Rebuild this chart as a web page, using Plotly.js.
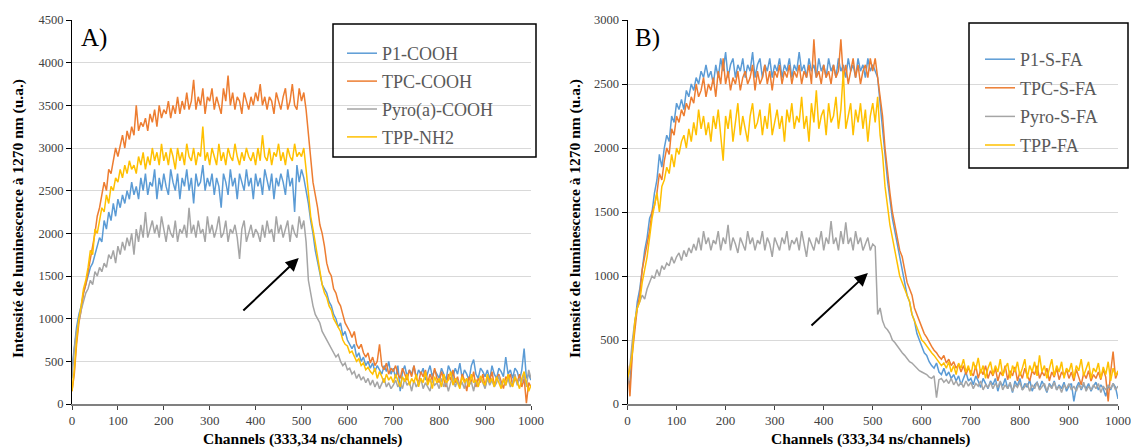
<!DOCTYPE html>
<html>
<head>
<meta charset="utf-8">
<script src="https://cdn.plot.ly/plotly-3.0.1.min.js"></script>
<style>
html,body{margin:0;padding:0;background:#fff;}
#chart{width:1131px;height:448px;}
</style>
</head>
<body>
<div id="chart"></div>
<script>
// Channel index (every 5th channel, 0..1000)
const channels = Array.from({length: 201}, (_, i) => i * 5);

// ---------- Panel A ----------
const namesA = ["P1-COOH", "TPC-COOH", "Pyro(a)-COOH", "TPP-NH2"];
const A_P1 = [
420,700,900,1050,1150,1300,1400,1500,1600,1650,
1750,1850,1950,1900,2150,2050,2250,2150,2350,2200,
2400,2300,2450,2350,2500,2400,2600,2450,2550,2400,
2650,2500,2700,2450,2600,2550,2750,2400,2650,2500,
2700,2550,2450,2750,2600,2500,2700,2400,2650,2550,
2750,2500,2650,2350,2700,2550,2600,2800,2500,2650,
2550,2700,2450,2650,2550,2300,2700,2600,2450,2750,
2550,2650,2400,2700,2600,2500,2750,2550,2650,2400,
2700,2550,2650,2450,2750,2600,2500,2700,2400,2650,
2550,2700,2600,2450,2750,2550,2650,2250,2800,2600,
2750,2650,2500,2350,2150,2000,1800,1650,1550,1400,
1350,1300,1200,1150,1050,1000,900,950,800,850,
750,700,650,700,550,600,500,550,450,500,
420,480,380,450,400,350,450,380,500,350,
420,300,450,150,380,450,320,400,350,450,
300,400,350,420,280,380,450,320,400,350,
300,420,350,280,450,380,320,420,350,480,
300,400,350,280,450,520,350,300,420,380,
320,400,280,450,350,300,420,380,320,550,
350,400,300,420,380,280,400,650,300,350,280];
const A_TPC = [
150,350,700,950,1100,1300,1400,1550,1700,1850,
2000,2200,2300,2450,2600,2500,2750,2700,2850,3000,
2900,3050,3150,3000,3200,3100,3250,3150,3500,3200,
3300,3250,3350,3200,3400,3300,3450,3250,3500,3350,
3450,3400,3550,3350,3500,3400,3600,3400,3550,3450,
3650,3450,3550,3800,3450,3600,3500,3700,3400,3600,
3550,3700,3450,3600,3500,3400,3700,3550,3850,3500,
3650,3450,3600,3550,3400,3650,3550,3450,3600,3500,
3650,3550,3750,3500,3600,3450,3600,3550,3400,3650,
3550,3450,3600,3700,3450,3550,3750,3500,3450,3700,
3550,3650,3450,3150,2900,2600,2450,2300,2100,2000,
1850,1650,1550,1500,1350,1300,1200,1150,1050,950,
900,850,780,850,700,650,700,600,550,600,
480,550,450,500,700,450,400,480,350,420,
380,450,350,300,420,350,280,400,320,450,
300,250,380,320,400,250,350,280,420,300,
250,380,300,200,350,280,400,250,320,200,
350,280,150,320,250,380,200,300,250,350,
200,320,270,380,220,300,350,250,180,320,
280,350,220,300,250,350,200,300,10,250,200];
const A_Pyro = [
300,650,850,1000,1100,1200,1300,1350,1450,1400,
1550,1500,1600,1550,1650,1600,1750,1700,1800,1650,
1850,1750,1900,1800,1950,1850,2000,1750,2050,1900,
2100,1950,2250,1950,2050,2150,2000,2100,1950,2200,
2050,1900,2100,2000,1950,2150,1900,2050,2000,2100,
1950,2300,2000,2100,1950,2150,2000,2050,1900,2200,
2000,2100,1950,2050,2200,1950,2000,2150,1900,2050,
2000,2100,1950,1700,2050,2150,1900,2000,2100,1950,
2050,2000,1900,2100,1950,2150,2000,2050,1900,2200,
2000,2100,1950,2050,2150,1900,2100,2000,1950,2200,
2050,2150,1900,1450,1300,1150,1050,1000,950,850,
800,750,700,650,600,550,580,500,450,480,
400,420,350,380,300,350,280,320,250,300,
220,280,200,260,180,250,300,200,250,180,
220,280,200,250,180,300,220,260,150,280,
200,250,300,180,250,200,150,280,220,250,
180,300,200,260,150,250,320,200,280,220,
250,180,300,220,260,150,280,200,320,250,
180,300,220,280,200,250,330,200,280,220,
300,200,260,350,220,300,250,350,200,400,300];
const A_TPP = [
150,400,750,1000,1150,1350,1450,1600,1800,1750,
2050,2000,2150,2300,2250,2450,2350,2550,2500,2650,
2600,2750,2650,2800,2700,2850,2750,2800,2700,2900,
2800,2950,2750,2900,2800,3000,2850,2950,2800,3050,
2850,2950,2800,3000,2900,2750,3000,2850,2950,2800,
3050,2900,2850,3000,2800,2950,2900,3250,2850,2950,
2800,3000,2900,2800,3050,2850,2950,2800,3000,2900,
2850,3050,2900,2800,2950,2850,3000,2900,2850,2950,
2800,3000,2850,3150,2900,2850,3000,2800,2950,2900,
3050,2850,2950,2800,3000,2900,2850,3050,2900,2950,
2900,3000,2750,2450,2200,2050,1900,1700,1550,1400,
1300,1250,1150,1100,1000,950,900,850,750,700,
680,600,620,550,500,530,450,480,400,430,
380,350,420,300,380,320,250,350,280,320,
250,350,280,200,320,260,350,220,300,250,
350,200,300,250,380,220,300,180,320,250,
300,200,350,250,280,380,220,300,250,180,
320,250,300,200,350,250,280,200,330,260,
220,350,250,300,200,320,250,180,300,220,
350,250,200,320,260,180,300,380,250,150,220];

// ---------- Panel B ----------
const namesB = ["P1-S-FA", "TPC-S-FA", "Pyro-S-FA", "TPP-FA"];
const B_P1 = [
200,150,450,650,800,900,1050,1200,1300,1450,
1500,1650,1750,1950,1850,2000,2100,2050,2250,2200,
2350,2300,2380,2300,2450,2400,2500,2450,2550,2500,
2600,2550,2650,2550,2600,2500,2650,2550,2700,2600,
2750,2550,2650,2700,2550,2650,2600,2700,2550,2650,
2600,2750,2550,2650,2700,2550,2650,2600,2700,2550,
2650,2600,2700,2550,2650,2600,2700,2550,2650,2600,
2750,2600,2650,2550,2700,2600,2650,2550,2700,2600,
2650,2550,2700,2600,2650,2550,2700,2600,2650,2550,
2700,2600,2650,2550,2700,2600,2650,2550,2700,2600,
2650,2600,2550,2350,2150,1900,1750,1600,1450,1350,
1250,1150,1050,950,850,800,700,650,550,500,
450,400,380,330,300,280,320,250,230,280,
220,250,200,230,180,220,150,200,250,180,
200,150,220,180,130,200,160,120,180,150,
200,100,170,140,200,120,160,90,180,140,
200,110,160,130,190,100,150,170,120,180,
140,90,160,130,180,110,150,120,170,100,
140,160,20,130,170,110,150,120,160,100,
140,170,110,150,120,60,140,110,160,130,40];
const B_TPC = [
300,60,400,600,750,850,1050,1150,1250,1350,
1500,1550,1650,1800,1750,1900,2000,1950,2150,2100,
2250,2200,2300,2250,2350,2300,2400,2350,2500,2400,
2450,2550,2400,2500,2450,2550,2400,2600,2500,2700,
2500,2600,2450,2550,2500,2600,2450,2550,2600,2500,
2550,2650,2450,2600,2500,2550,2650,2500,2600,2450,
2600,2550,2650,2500,2600,2550,2650,2500,2600,2550,
2650,2500,2600,2550,2650,2500,2850,2550,2600,2500,
2650,2550,2600,2500,2650,2550,2600,2850,2550,2650,
2500,2600,2700,2550,2650,2500,2600,2650,2550,2700,
2600,2700,2550,2400,2250,2000,1800,1650,1500,1400,
1300,1200,1150,1050,950,900,850,750,700,650,
600,550,520,480,450,420,400,370,350,380,
320,350,300,330,280,310,250,300,230,280,
250,220,300,200,270,230,300,200,260,220,
280,180,250,220,300,190,260,220,290,180,
250,200,280,220,180,260,230,300,200,250,
220,280,180,250,210,280,190,250,220,270,
200,250,180,270,210,150,240,200,260,180,
230,200,250,190,270,210,20,250,410,200,250];
const B_Pyro = [
150,300,500,650,750,800,850,820,900,950,
1000,980,1050,1000,1080,1050,1100,1080,1150,1100,
1150,1180,1120,1200,1150,1220,1180,1250,1200,1300,
1200,1350,1250,1300,1200,1280,1250,1350,1200,1300,
1250,1400,1200,1300,1250,1180,1300,1250,1200,1350,
1250,1300,1200,1280,1250,1350,1200,1300,1250,1150,
1300,1250,1200,1300,1250,1350,1200,1280,1250,1300,
1200,1350,1250,1150,1300,1250,1200,1300,1250,1350,
1200,1300,1250,1430,1250,1300,1200,1350,1250,1420,
1250,1300,1200,1350,1250,1300,1200,1250,1300,1200,
1250,1230,700,750,650,600,580,550,500,480,
450,420,400,380,350,330,320,300,280,260,
250,240,230,210,200,220,50,190,200,170,
190,160,200,150,180,140,170,130,180,140,
170,120,160,140,180,110,150,130,170,120,
160,130,180,110,150,120,170,100,150,130,
170,110,140,160,100,150,120,170,110,140,
160,100,150,120,170,110,140,90,150,120,
160,110,140,100,150,120,170,100,140,110,
150,120,160,90,140,110,150,120,160,110,140];
const B_TPP = [
200,280,400,650,750,800,950,1050,1150,1300,
1450,1550,1650,1500,1700,1750,1850,1800,1950,1850,
2000,1950,2050,2100,2000,2150,2050,2200,2100,2300,
2150,2250,2100,2200,2050,2250,2150,2300,2100,1900,
2250,2150,2300,2050,2200,2350,2100,2250,2150,2050,
2250,2350,2150,2200,2300,2100,2250,2150,2350,2100,
2200,2300,2150,2250,2050,2300,2200,2350,2150,2250,
2200,2400,2150,2250,2050,2350,2200,2450,2150,2250,
2300,2100,2350,2200,2250,2400,2150,2300,2600,2150,
2250,2350,2100,2300,2200,2350,2150,2300,2050,2250,
2350,2200,2400,2100,1950,1700,1550,1400,1300,1200,
1100,1000,950,900,850,800,700,650,600,550,
500,480,450,420,400,380,350,330,300,320,
280,330,250,300,230,320,280,350,250,300,
220,330,270,360,240,300,200,280,330,230,
300,250,350,220,280,320,200,300,250,330,
220,280,350,200,300,250,330,220,380,250,
300,200,280,350,220,300,250,330,200,280,
250,320,200,300,260,350,220,280,330,200,
280,250,320,200,290,230,330,180,280,220,260];

const colors = ["#5b9bd5", "#ed7d31", "#a5a5a5", "#ffc000"];
const seriesA = [A_P1, A_TPC, A_Pyro, A_TPP];
const seriesB = [B_P1, B_TPC, B_Pyro, B_TPP];

const traces = [];
seriesA.forEach((ys, i) => traces.push({
  x: channels, y: ys, type: "scatter", mode: "lines", name: namesA[i],
  line: {color: colors[i], width: 1.5}, xaxis: "x", yaxis: "y",
  legend: "legend", legendgroup: "a" + i
}));
seriesB.forEach((ys, i) => traces.push({
  x: channels, y: ys, type: "scatter", mode: "lines", name: namesB[i],
  line: {color: colors[i], width: 1.5}, xaxis: "x2", yaxis: "y2",
  legend: "legend2", legendgroup: "b" + i
}));

const W = 1131, H = 448;
const px = v => v / W, py = v => 1 - v / H;
const serif = "'Liberation Serif', 'Times New Roman', serif";

const yAxisBase = {
  showgrid: true, gridcolor: "#d9d9d9", gridwidth: 1, zeroline: false,
  showline: true, linecolor: "#000000", linewidth: 1,
  ticks: "outside", ticklen: 5, tickcolor: "#000000",
  tickfont: {family: serif, size: 12.5, color: "#404040"}, fixedrange: true
};
const xAxisBase = {
  range: [0, 1000], dtick: 100, tick0: 0, showgrid: false, zeroline: false,
  showline: true, linecolor: "#808080", linewidth: 1.5,
  ticks: "outside", ticklen: 4, tickcolor: "#404040",
  tickfont: {family: serif, size: 13, color: "#404040"}, fixedrange: true
};

const legendBase = {
  bgcolor: "rgba(0,0,0,0)", borderwidth: 0,
  font: {family: serif, size: 18, color: "#595959"},
  tracegroupgap: 1.5, itemwidth: 30, xanchor: "left", yanchor: "top"
};

const layout = {
  width: W, height: H,
  margin: {l: 0, r: 0, t: 0, b: 0},
  paper_bgcolor: "#ffffff", plot_bgcolor: "#ffffff",
  showlegend: true,
  xaxis: Object.assign({}, xAxisBase, {domain: [px(72), px(531)], anchor: "y"}),
  yaxis: Object.assign({}, yAxisBase, {domain: [1 - 404 / H, 1 - 20 / H], range: [0, 4500], dtick: 500, anchor: "x"}),
  xaxis2: Object.assign({}, xAxisBase, {domain: [px(627.5), px(1118)], anchor: "y2"}),
  yaxis2: Object.assign({}, yAxisBase, {domain: [1 - 404 / H, 1 - 20 / H], range: [0, 3000], dtick: 500, anchor: "x2"}),
  legend: Object.assign({}, legendBase, {x: px(342), y: py(35)}),
  legend2: Object.assign({}, legendBase, {x: px(980), y: py(41), tracegroupgap: 2.2}),
  shapes: [
    {type: "rect", xref: "paper", yref: "paper", x0: px(333), x1: px(536), y0: py(157), y1: py(24),
     line: {color: "#000000", width: 1.5}, fillcolor: "rgba(0,0,0,0)"},
    {type: "rect", xref: "paper", yref: "paper", x0: px(969), x1: px(1128), y0: py(168), y1: py(23),
     line: {color: "#000000", width: 1.5}, fillcolor: "rgba(0,0,0,0)"}
  ],
  annotations: [
    {text: "A)", xref: "paper", yref: "paper", x: px(79), y: py(38), xanchor: "left", yanchor: "middle",
     showarrow: false, font: {family: serif, size: 25, color: "#000"}},
    {text: "B)", xref: "paper", yref: "paper", x: px(633), y: py(38), xanchor: "left", yanchor: "middle",
     showarrow: false, font: {family: serif, size: 25, color: "#000"}},
    {text: "<b>Intensité de luminescence à 1270 nm (u.a.)</b>", xref: "paper", yref: "paper",
     x: px(18), y: py(219), textangle: -90, xanchor: "center", yanchor: "middle", showarrow: false,
     font: {family: serif, size: 15.5, color: "#000"}},
    {text: "<b>Intensité de luminescence à 1270 nm (u.a.)</b>", xref: "paper", yref: "paper",
     x: px(575), y: py(219), textangle: -90, xanchor: "center", yanchor: "middle", showarrow: false,
     font: {family: serif, size: 15.5, color: "#000"}},
    {text: "<b>Channels (333,34 ns/channels)</b>", xref: "paper", yref: "paper",
     x: px(302), y: py(439), xanchor: "center", yanchor: "middle", showarrow: false,
     font: {family: serif, size: 15.5, color: "#000"}},
    {text: "<b>Channels (333,34 ns/channels)</b>", xref: "paper", yref: "paper",
     x: px(870), y: py(439), xanchor: "center", yanchor: "middle", showarrow: false,
     font: {family: serif, size: 15.5, color: "#000"}},
    {text: "", x: 494, y: 1711, xref: "x", yref: "y", ax: 370, ay: 1078, axref: "x", ayref: "y",
     showarrow: true, arrowhead: 2, arrowsize: 1.3, arrowwidth: 2, arrowcolor: "#000"},
    {text: "", x: 490, y: 1023, xref: "x2", yref: "y2", ax: 372, ay: 602, axref: "x2", ayref: "y2",
     showarrow: true, arrowhead: 2, arrowsize: 1.3, arrowwidth: 2, arrowcolor: "#000"}
  ]
};

Plotly.newPlot("chart", traces, layout, {displayModeBar: false, staticPlot: true});
</script>
</body>
</html>
